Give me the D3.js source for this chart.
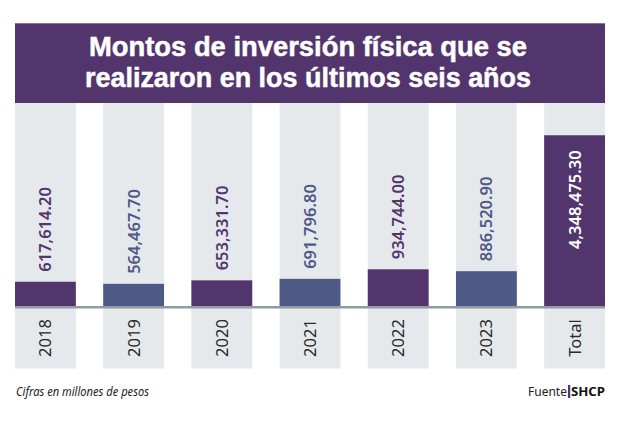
<!DOCTYPE html>
<html>
<head>
<meta charset="utf-8">
<script src="https://cdn.jsdelivr.net/npm/d3@7"></script>
<style>
  html, body { margin: 0; padding: 0; background: #ffffff; }
  svg { display: block; }
</style>
</head>
<body>
<svg id="chart" width="620" height="422"></svg>
<script>
const categories = ["2018", "2019", "2020", "2021", "2022", "2023", "Total"];
const values = [617614.20, 564467.70, 653331.70, 691796.80, 934744.00, 886520.90, 4348475.30];
const titleLines = ["Montos de inversión física que se", "realizaron en los últimos seis años"];
const noteText = "Cifras en millones de pesos";
const sourceLabel = "Fuente";
const sourceName = "SHCP";

const W = 620, H = 422;
const plotLeft = 15, plotRight = 605;
const plotTop = 103, base = 306, labelBottom = 368.5;
const purple = "#53356e", blue = "#4e5a86", gray = "#e6e9ec", axisCol = "#8e9ca4";
const fmt = d3.format(",.2f");

const svg = d3.select("#chart");
svg.append("rect").attr("width", W).attr("height", H).attr("fill", "#fff");

const x = d3.scaleBand().domain(categories).range([plotLeft, plotRight]).paddingInner(0.31).paddingOuter(0);
const y = d3.scaleLinear().domain([0, 5.17e6]).range([base, plotTop]);

const colorOf = (d, i) => (i % 2 === 1 ? blue : purple);

// gray columns
svg.append("g").selectAll("rect").data(categories).join("rect")
  .attr("x", d => x(d)).attr("y", plotTop)
  .attr("width", x.bandwidth()).attr("height", labelBottom - plotTop)
  .attr("fill", gray);

// title box
svg.append("rect").attr("x", plotLeft).attr("y", 23.3).attr("width", plotRight - plotLeft).attr("height", plotTop - 23.3)
  .attr("fill", purple);
const tl = [{t: titleLines[0], yb: 55.8, len: 438}, {t: titleLines[1], yb: 87, len: 446}];
svg.append("g").selectAll("text").data(tl).join("text")
  .attr("x", 308).attr("y", d => d.yb)
  .attr("text-anchor", "middle")
  .attr("font-family", "'Liberation Sans', Arial, sans-serif")
  .attr("font-weight", 700).attr("font-size", 28)
  .attr("fill", "#fff").attr("stroke", "#fff").attr("stroke-width", 0.5)
  .attr("textLength", d => d.len).attr("lengthAdjust", "spacingAndGlyphs")
  .text(d => d.t);

// bars
svg.append("g").selectAll("rect").data(values).join("rect")
  .attr("x", (d, i) => x(categories[i]))
  .attr("y", d => y(d))
  .attr("width", x.bandwidth())
  .attr("height", d => base - y(d))
  .attr("fill", colorOf);

// value labels
const last = values.length - 1;
svg.append("g").selectAll("text").data(values).join("text")
  .attr("transform", (d, i) => {
    const cx = x(categories[i]) + x.bandwidth() / 2;
    const cy = i === last ? y(d) + 15 : y(d) - 10;
    return `translate(${cx},${cy}) rotate(-90)`;
  })
  .attr("text-anchor", (d, i) => i === last ? "end" : "start")
  .attr("dy", "0.36em")
  .attr("font-family", "'Noto Sans', sans-serif")
  .attr("font-weight", 600).attr("font-size", 16.5)
  .attr("fill", (d, i) => i === last ? "#fff" : colorOf(d, i))
  .text(d => fmt(d));

// axis baseline
svg.append("rect").attr("x", plotLeft).attr("y", base).attr("width", plotRight - plotLeft).attr("height", 2.5)
  .attr("fill", axisCol);

// category labels
svg.append("g").selectAll("text").data(categories).join("text")
  .attr("transform", d => `translate(${x(d) + x.bandwidth() / 2},338) rotate(-90)`)
  .attr("text-anchor", "middle").attr("dy", "0.36em")
  .attr("font-family", "'Noto Sans', sans-serif")
  .attr("font-size", 16.5)
  .attr("fill", "#2b2b2b")
  .text(d => d);

// footer
svg.append("text").attr("x", 16).attr("y", 395.7)
  .attr("font-family", "'Noto Sans', sans-serif").attr("font-style", "italic")
  .attr("font-size", 12).attr("fill", "#222")
  .attr("textLength", 133).attr("lengthAdjust", "spacingAndGlyphs")
  .text(noteText);

const srcG = svg.append("g").attr("font-family", "'Noto Sans', sans-serif").attr("font-size", 13);
srcG.append("text").attr("x", 605).attr("y", 395.7).attr("text-anchor", "end")
  .attr("font-weight", 700).attr("fill", "#111")
  .attr("textLength", 34).attr("lengthAdjust", "spacingAndGlyphs")
  .text(sourceName);
srcG.append("rect").attr("x", 568).attr("y", 385).attr("width", 2.2).attr("height", 13).attr("fill", purple);
srcG.append("text").attr("x", 567).attr("y", 395.7).attr("text-anchor", "end")
  .attr("fill", "#222")
  .attr("textLength", 39).attr("lengthAdjust", "spacingAndGlyphs")
  .text(sourceLabel);
</script>
</body>
</html>
